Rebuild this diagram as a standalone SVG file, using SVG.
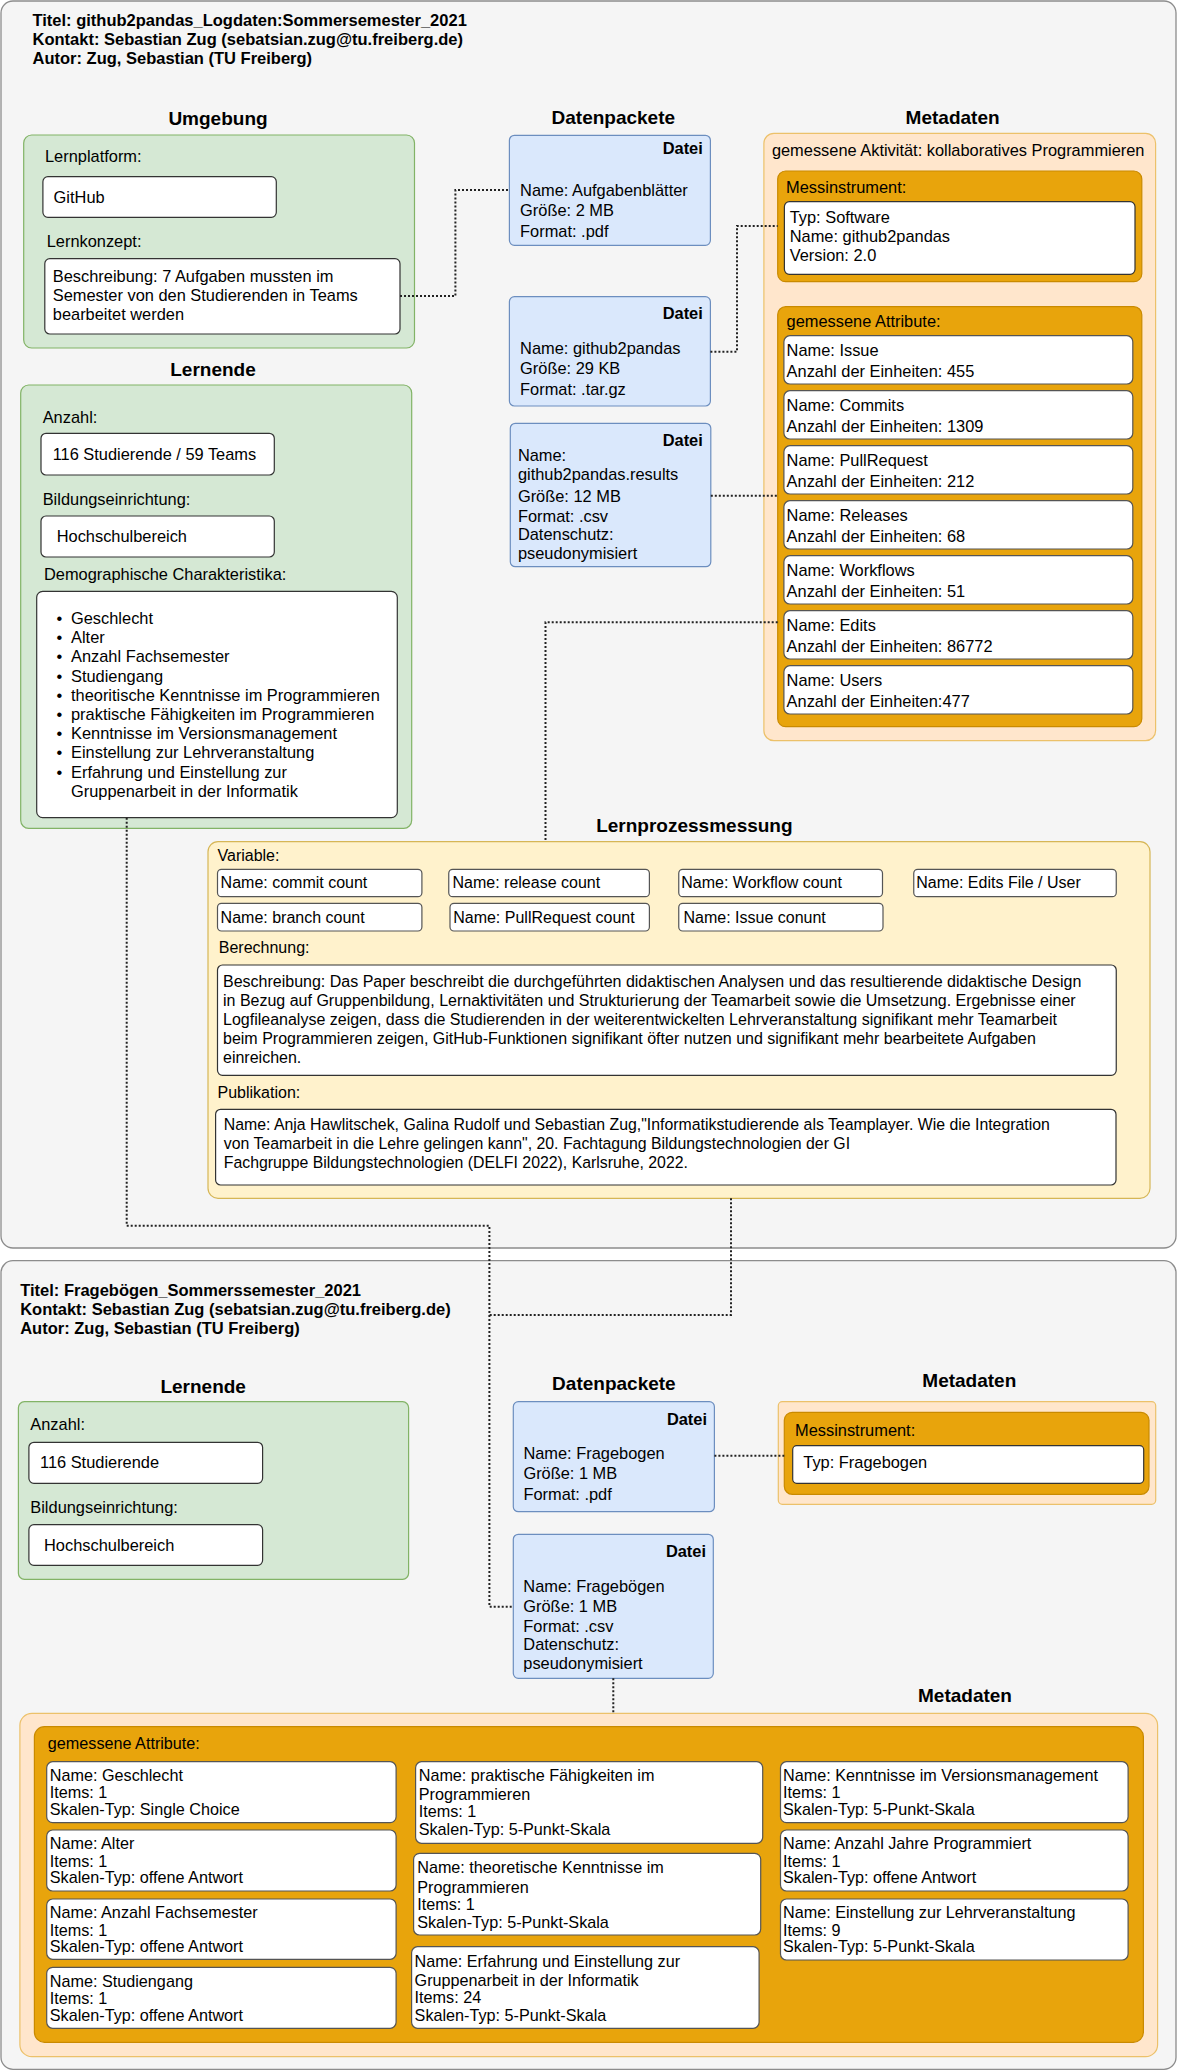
<svg xmlns="http://www.w3.org/2000/svg" width="1178" height="2071" viewBox="0 0 1178 2071">
<style>
.ctr{fill:#f5f5f5;stroke:#8c8c8c;stroke-width:1.3}
.green{fill:#d5e8d4;stroke:#82b366;stroke-width:1.2}
.white{fill:#ffffff;stroke:#333333;stroke-width:1.2}
.wa{fill:#ffffff;stroke:#555555;stroke-width:1.2}
.blue{fill:#dae8fc;stroke:#6c8ebf;stroke-width:1.2}
.lor{fill:#ffe6cc;stroke:#ecc16a;stroke-width:1.2}
.org{fill:#e8a40c;stroke:#c98a00;stroke-width:1.2}
.yel{fill:#fff2cc;stroke:#d6b656;stroke-width:1.2}
text{font-family:"Liberation Sans",Arial,Helvetica,sans-serif;font-size:16.4px;fill:#000}
.b{font-weight:bold}
.ttl{font-weight:bold;font-size:16.5px}
.h{font-weight:bold;font-size:19px;text-anchor:middle}
.e{text-anchor:end}
.lp text{font-size:16px}
.lp text.h{font-size:19px}
.lp text.pub{font-size:15.85px}
.m3 text{font-size:16.2px}
.m3 text.h{font-size:19px}
.conn{fill:none;stroke:#222;stroke-width:2;stroke-dasharray:2 2}
</style>

<g id="container1">
<rect class="ctr" x="1" y="1" width="1175" height="1247" rx="12"/>
<text class="ttl" x="32.5" y="26">Titel: github2pandas_Logdaten:Sommersemester_2021</text>
<text class="ttl" x="32.5" y="45.3">Kontakt: Sebastian Zug (sebatsian.zug@tu.freiberg.de)</text>
<text class="ttl" x="32.5" y="64.3">Autor: Zug, Sebastian (TU Freiberg)</text>
</g>

<g id="umgebung">
<text class="h" x="218" y="125">Umgebung</text>
<rect class="green" x="23.7" y="135" width="390.8" height="213" rx="8"/>
<text x="45" y="161.7">Lernplatform:</text>
<rect class="white" x="42.9" y="176.7" width="233.4" height="40.6" rx="5"/>
<text x="53.6" y="202.7">GitHub</text>
<text x="46.7" y="247">Lernkonzept:</text>
<rect class="white" x="44.8" y="258.7" width="355.2" height="75.3" rx="5"/>
<text x="52.8" y="281.7">Beschreibung: 7 Aufgaben mussten im</text>
<text x="52.8" y="300.7">Semester von den Studierenden in Teams</text>
<text x="52.8" y="320">bearbeitet werden</text>
</g>

<g id="lernende1">
<text class="h" x="213" y="376">Lernende</text>
<rect class="green" x="20.7" y="385" width="391" height="443.3" rx="8"/>
<text x="42.7" y="422.7">Anzahl:</text>
<rect class="white" x="41" y="433.3" width="233.3" height="41.7" rx="5"/>
<text x="52.7" y="460">116 Studierende / 59 Teams</text>
<text x="42.7" y="504.7">Bildungseinrichtung:</text>
<rect class="white" x="41" y="516" width="233.3" height="41" rx="5"/>
<text x="56.7" y="542.3">Hochschulbereich</text>
<text x="44" y="580">Demographische Charakteristika:</text>
<rect class="white" x="36.7" y="591.3" width="360.6" height="226.4" rx="6"/>
<text x="56.5" y="624">•</text><text x="71" y="624">Geschlecht</text>
<text x="56.5" y="643.2">•</text><text x="71" y="643.2">Alter</text>
<text x="56.5" y="662.4">•</text><text x="71" y="662.4">Anzahl Fachsemester</text>
<text x="56.5" y="681.6">•</text><text x="71" y="681.6">Studiengang</text>
<text x="56.5" y="700.8">•</text><text x="71" y="700.8">theoritische Kenntnisse im Programmieren</text>
<text x="56.5" y="720">•</text><text x="71" y="720">praktische Fähigkeiten im Programmieren</text>
<text x="56.5" y="739.2">•</text><text x="71" y="739.2">Kenntnisse im Versionsmanagement</text>
<text x="56.5" y="758.4">•</text><text x="71" y="758.4">Einstellung zur Lehrveranstaltung</text>
<text x="56.5" y="777.6">•</text><text x="71" y="777.6">Erfahrung und Einstellung zur</text>
<text x="71" y="796.8">Gruppenarbeit in der Informatik</text>
</g>

<g id="datenpackete1">
<text class="h" x="613.3" y="124">Datenpackete</text>
<g id="datei1">
<rect class="blue" x="509.4" y="135.3" width="201" height="110" rx="5"/>
<text class="b e" x="702.8" y="154.3">Datei</text>
<text x="520.1" y="195.7">Name: Aufgabenblätter</text>
<text x="520.1" y="216">Größe: 2 MB</text>
<text x="520.1" y="236.7">Format: .pdf</text>
</g>
<g id="datei2">
<rect class="blue" x="509.4" y="296.7" width="201" height="109.3" rx="5"/>
<text class="b e" x="702.8" y="319">Datei</text>
<text x="520.1" y="354">Name: github2pandas</text>
<text x="520.1" y="374">Größe: 29 KB</text>
<text x="520.1" y="395">Format: .tar.gz</text>
</g>
<g id="datei3">
<rect class="blue" x="510.3" y="423.3" width="200.5" height="143.4" rx="5"/>
<text class="b e" x="702.8" y="445.7">Datei</text>
<text x="517.9" y="460.7">Name:</text>
<text x="517.9" y="480">github2pandas.results</text>
<text x="517.9" y="501.7">Größe: 12 MB</text>
<text x="517.9" y="521.7">Format: .csv</text>
<text x="517.9" y="540">Datenschutz:</text>
<text x="517.9" y="559">pseudonymisiert</text>
</g>
</g>

<g id="metadaten1">
<text class="h" x="952.6" y="124">Metadaten</text>
<rect class="lor" x="763.9" y="133.3" width="391.7" height="607.4" rx="10"/>
<text x="771.9" y="155.7">gemessene Aktivität: kollaboratives Programmieren</text>
<g id="messinstrument1">
<rect class="org" x="777.7" y="171" width="364.1" height="110.7" rx="8"/>
<text x="786.1" y="192.7">Messinstrument:</text>
<rect class="white" x="784.4" y="201.7" width="350.6" height="72.6" rx="5"/>
<text x="789.7" y="223.3">Typ: Software</text>
<text x="789.7" y="241.7">Name: github2pandas</text>
<text x="789.7" y="260.7">Version: 2.0</text>
</g>
<g id="attribute1">
<rect class="org" x="777.7" y="306.7" width="364.1" height="420" rx="8"/>
<text x="786.6" y="326.7">gemessene Attribute:</text>
<rect class="wa" x="783.9" y="335.7" width="348.9" height="48.3" rx="6"/>
<text x="786.6" y="356">Name: Issue</text>
<text x="786.6" y="376.7">Anzahl der Einheiten: 455</text>
<rect class="wa" x="783.9" y="390.7" width="348.9" height="48.3" rx="6"/>
<text x="786.6" y="411">Name: Commits</text>
<text x="786.6" y="431.7">Anzahl der Einheiten: 1309</text>
<rect class="wa" x="783.9" y="445.7" width="348.9" height="48.3" rx="6"/>
<text x="786.6" y="466">Name: PullRequest</text>
<text x="786.6" y="486.7">Anzahl der Einheiten: 212</text>
<rect class="wa" x="783.9" y="500.7" width="348.9" height="48.3" rx="6"/>
<text x="786.6" y="521">Name: Releases</text>
<text x="786.6" y="541.7">Anzahl der Einheiten: 68</text>
<rect class="wa" x="783.9" y="555.7" width="348.9" height="48.3" rx="6"/>
<text x="786.6" y="576">Name: Workflows</text>
<text x="786.6" y="596.7">Anzahl der Einheiten: 51</text>
<rect class="wa" x="783.9" y="610.7" width="348.9" height="48.3" rx="6"/>
<text x="786.6" y="631">Name: Edits</text>
<text x="786.6" y="651.7">Anzahl der Einheiten: 86772</text>
<rect class="wa" x="783.9" y="665.7" width="348.9" height="48.3" rx="6"/>
<text x="786.6" y="686">Name: Users</text>
<text x="786.6" y="706.7">Anzahl der Einheiten:477</text>
</g>
</g>

<g id="lernprozessmessung" class="lp">
<text class="h" x="694.4" y="831.7">Lernprozessmessung</text>
<rect class="yel" x="208" y="841.7" width="942" height="356.6" rx="10"/>
<text x="217.5" y="861">Variable:</text>
<rect class="wa" x="217.5" y="869.3" width="204.4" height="27.4" rx="4"/>
<text x="220.6" y="888.3">Name: commit count</text>
<rect class="wa" x="448.75" y="869.3" width="200.65" height="27.4" rx="4"/>
<text x="452.5" y="888.3">Name: release count</text>
<rect class="wa" x="678.75" y="869.3" width="203.75" height="27.4" rx="4"/>
<text x="681.3" y="888.3">Name: Workflow count</text>
<rect class="wa" x="913.75" y="869.3" width="202.5" height="27.4" rx="4"/>
<text x="916.3" y="888.3">Name: Edits File / User</text>
<rect class="wa" x="217.5" y="903.3" width="204.4" height="27.7" rx="4"/>
<text x="220.6" y="922.7">Name: branch count</text>
<rect class="wa" x="450" y="903.3" width="199.4" height="27.7" rx="4"/>
<text x="453.2" y="922.7">Name: PullRequest count</text>
<rect class="wa" x="678.75" y="903.3" width="204.25" height="27.7" rx="4"/>
<text x="683.5" y="922.7">Name: Issue conunt</text>
<text x="218.75" y="953.3">Berechnung:</text>
<rect class="white" x="217.5" y="965" width="898.75" height="110.3" rx="5"/>
<text x="223" y="986.7">Beschreibung: Das Paper beschreibt die durchgeführten didaktischen Analysen und das resultierende didaktische Design</text>
<text x="223" y="1005.7">in Bezug auf Gruppenbildung, Lernaktivitäten und Strukturierung der Teamarbeit sowie die Umsetzung. Ergebnisse einer</text>
<text x="223" y="1024.7">Logfileanalyse zeigen, dass die Studierenden in der weiterentwickelten Lehrveranstaltung signifikant mehr Teamarbeit</text>
<text x="223" y="1043.7">beim Programmieren zeigen, GitHub-Funktionen signifikant öfter nutzen und signifikant mehr bearbeitete Aufgaben</text>
<text x="223" y="1062.7">einreichen.</text>
<text x="217.5" y="1097.7">Publikation:</text>
<rect class="white" x="215.6" y="1109.3" width="900.4" height="75.7" rx="5"/>
<text class="pub" x="223.75" y="1130">Name: Anja Hawlitschek, Galina Rudolf und Sebastian Zug,"Informatikstudierende als Teamplayer. Wie die Integration</text>
<text class="pub" x="223.75" y="1149">von Teamarbeit in die Lehre gelingen kann", 20. Fachtagung Bildungstechnologien der GI</text>
<text class="pub" x="223.75" y="1168">Fachgruppe Bildungstechnologien (DELFI 2022), Karlsruhe, 2022.</text>
</g>

<g id="container2">
<rect class="ctr" x="1" y="1260.7" width="1175" height="808.6" rx="12"/>
<text class="ttl" x="20.2" y="1295.7">Titel: Fragebögen_Sommerssemester_2021</text>
<text class="ttl" x="20.2" y="1315">Kontakt: Sebastian Zug (sebatsian.zug@tu.freiberg.de)</text>
<text class="ttl" x="20.2" y="1334">Autor: Zug, Sebastian (TU Freiberg)</text>
</g>

<g id="lernende2">
<text class="h" x="203.2" y="1392.7">Lernende</text>
<rect class="green" x="18.4" y="1401.7" width="390.2" height="177.6" rx="6"/>
<text x="30.3" y="1430">Anzahl:</text>
<rect class="white" x="28.9" y="1442.3" width="233.7" height="41" rx="5"/>
<text x="40" y="1468.3">116 Studierende</text>
<text x="30.3" y="1513.3">Bildungseinrichtung:</text>
<rect class="white" x="28.9" y="1524.7" width="233.7" height="40.6" rx="5"/>
<text x="44" y="1550.7">Hochschulbereich</text>
</g>

<g id="datenpackete2">
<text class="h" x="613.9" y="1390">Datenpackete</text>
<g id="datei4">
<rect class="blue" x="513.3" y="1401.7" width="201.1" height="110" rx="5"/>
<text class="b e" x="707" y="1425">Datei</text>
<text x="523.4" y="1459">Name: Fragebogen</text>
<text x="523.4" y="1479.3">Größe: 1 MB</text>
<text x="523.4" y="1500">Format: .pdf</text>
</g>
<g id="datei5">
<rect class="blue" x="513.3" y="1534.3" width="200" height="144" rx="5"/>
<text class="b e" x="706" y="1557.3">Datei</text>
<text x="523.3" y="1591.7">Name: Fragebögen</text>
<text x="523.3" y="1612.3">Größe: 1 MB</text>
<text x="523.3" y="1632.3">Format: .csv</text>
<text x="523.3" y="1650">Datenschutz:</text>
<text x="523.3" y="1669.3">pseudonymisiert</text>
</g>
</g>

<g id="metadaten2">
<text class="h" x="969.3" y="1386.7">Metadaten</text>
<rect class="lor" x="778.3" y="1401.7" width="377.4" height="102.6" rx="4"/>
<rect class="org" x="784.3" y="1412.3" width="364.7" height="82" rx="8"/>
<text x="795" y="1436">Messinstrument:</text>
<rect class="white" x="792.7" y="1445.7" width="351" height="37.6" rx="4"/>
<text x="803.3" y="1468.3">Typ: Fragebogen</text>
</g>

<g id="metadaten3" class="m3">
<text class="h" x="965" y="1701.7">Metadaten</text>
<rect class="lor" x="19.9" y="1713.3" width="1137.7" height="343.4" rx="12"/>
<rect class="org" x="34.4" y="1726.7" width="1109" height="315.6" rx="10"/>
<text x="47.8" y="1749.3">gemessene Attribute:</text>
<rect class="wa" x="46.7" y="1761.7" width="349.4" height="61" rx="6"/>
<text x="49.8" y="1781">Name: Geschlecht</text>
<text x="49.8" y="1798.3">Items: 1</text>
<text x="49.8" y="1815">Skalen-Typ: Single Choice</text>
<rect class="wa" x="46.7" y="1830" width="349.4" height="61" rx="6"/>
<text x="49.8" y="1849.3">Name: Alter</text>
<text x="49.8" y="1866.6">Items: 1</text>
<text x="49.8" y="1883.3">Skalen-Typ: offene Antwort</text>
<rect class="wa" x="46.7" y="1899" width="349.4" height="60.3" rx="6"/>
<text x="49.8" y="1918.3">Name: Anzahl Fachsemester</text>
<text x="49.8" y="1935.6">Items: 1</text>
<text x="49.8" y="1952.3">Skalen-Typ: offene Antwort</text>
<rect class="wa" x="46.7" y="1967.3" width="349.4" height="61" rx="6"/>
<text x="49.8" y="1986.6">Name: Studiengang</text>
<text x="49.8" y="2003.9">Items: 1</text>
<text x="49.8" y="2020.6">Skalen-Typ: offene Antwort</text>

<rect class="wa" x="415.6" y="1761.7" width="347.1" height="81.6" rx="6"/>
<text x="418.7" y="1781">Name: praktische Fähigkeiten im</text>
<text x="418.7" y="1800">Programmieren</text>
<text x="418.7" y="1817.3">Items: 1</text>
<text x="418.7" y="1835">Skalen-Typ: 5-Punkt-Skala</text>
<rect class="wa" x="413.6" y="1853.3" width="347.1" height="81.7" rx="6"/>
<text x="417.2" y="1873.3">Name: theoretische Kenntnisse im</text>
<text x="417.2" y="1892.7">Programmieren</text>
<text x="417.2" y="1910">Items: 1</text>
<text x="417.2" y="1927.7">Skalen-Typ: 5-Punkt-Skala</text>
<rect class="wa" x="411.6" y="1946.7" width="347.5" height="81.6" rx="6"/>
<text x="414.6" y="1966.7">Name: Erfahrung und Einstellung zur</text>
<text x="414.6" y="1986">Gruppenarbeit in der Informatik</text>
<text x="414.6" y="2003.3">Items: 24</text>
<text x="414.6" y="2021">Skalen-Typ: 5-Punkt-Skala</text>

<rect class="wa" x="780.5" y="1761.7" width="347.6" height="61" rx="6"/>
<text x="783" y="1781">Name: Kenntnisse im Versionsmanagement</text>
<text x="783" y="1798.3">Items: 1</text>
<text x="783" y="1815">Skalen-Typ: 5-Punkt-Skala</text>
<rect class="wa" x="780.5" y="1830" width="347.6" height="61" rx="6"/>
<text x="783" y="1849.3">Name: Anzahl Jahre Programmiert</text>
<text x="783" y="1866.6">Items: 1</text>
<text x="783" y="1883.3">Skalen-Typ: offene Antwort</text>
<rect class="wa" x="780.5" y="1899" width="347.6" height="61" rx="6"/>
<text x="783" y="1918.3">Name: Einstellung zur Lehrveranstaltung</text>
<text x="783" y="1935.6">Items: 9</text>
<text x="783" y="1952.3">Skalen-Typ: 5-Punkt-Skala</text>
</g>

<g id="connectors">
<path class="conn" d="M400,296 H455.4 V190 H509.4"/>
<path class="conn" d="M710.4,351.7 H737 V226 H777.7"/>
<path class="conn" d="M710.8,495.7 H777.7"/>
<path class="conn" d="M777.7,622.3 H545.5 V841.7"/>
<path class="conn" d="M126.7,817.7 V1225.7 H489.4 V1606.7 H513.3"/>
<path class="conn" d="M731,1198.3 V1315 H489.4"/>
<path class="conn" d="M714.4,1455.7 H784.3"/>
<path class="conn" d="M613.3,1678.3 V1713.3"/>
</g>
</svg>
